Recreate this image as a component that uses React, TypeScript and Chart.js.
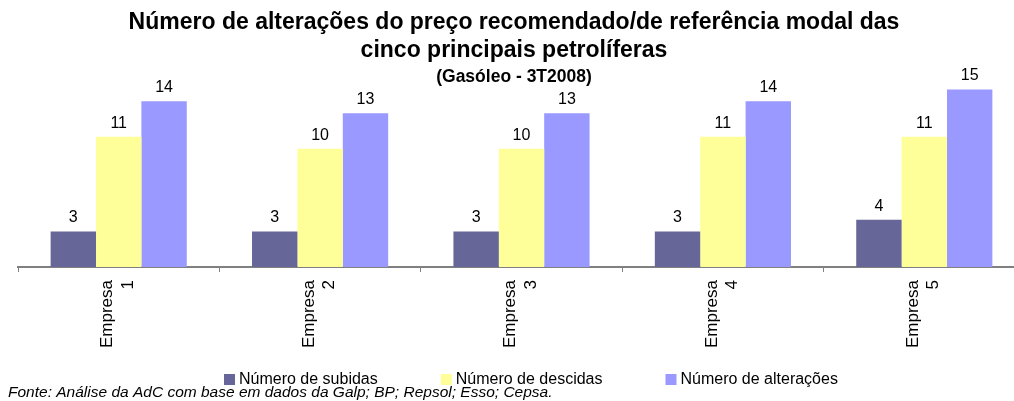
import React, { useEffect, useRef } from 'react';
import { Chart, registerables } from 'chart.js';

Chart.register(...registerables);

// ---- data ----
const categories: string[][] = [
  ['Empresa', '1'],
  ['Empresa', '2'],
  ['Empresa', '3'],
  ['Empresa', '4'],
  ['Empresa', '5'],
];
const seriesNames: string[] = ['Número de subidas', 'Número de descidas', 'Número de alterações'];
const subidas: number[] = [3, 3, 3, 3, 4];
const descidas: number[] = [11, 10, 10, 11, 11];
const alteracoes: number[] = [14, 13, 13, 14, 15];
const titleLines: string[] = [
  'Número de alterações do preço recomendado/de referência modal das',
  'cinco principais petrolíferas',
];
const subtitleText = '(Gasóleo - 3T2008)';
const sourceNote = 'Fonte: Análise da AdC com base em dados da Galp; BP; Repsol; Esso; Cepsa.';

// ---- styles ----
const FONT = '"Liberation Sans", Arial, Helvetica, sans-serif';
const seriesColors = ['#666699', '#FFFF99', '#9999FF'];

const titlePlugin = {
  id: 'titleBlock',
  afterDraw(chart: any) {
    const ctx = chart.ctx;
    ctx.save();
    ctx.fillStyle = '#000';
    ctx.textAlign = 'center';
    ctx.textBaseline = 'alphabetic';
    ctx.font = `bold 23px ${FONT}`;
    ctx.fillText(titleLines[0], 514, 28.5);
    ctx.fillText(titleLines[1], 514, 56.5);
    ctx.font = `bold 17.5px ${FONT}`;
    ctx.fillText(subtitleText, 514, 81.5);
    ctx.restore();
  },
};

const valueLabelPlugin = {
  id: 'valueLabels',
  afterDatasetsDraw(chart: any) {
    const ctx = chart.ctx;
    ctx.save();
    ctx.font = `16px ${FONT}`;
    ctx.fillStyle = '#000';
    ctx.textAlign = 'center';
    ctx.textBaseline = 'alphabetic';
    chart.data.datasets.forEach((ds: any, i: number) => {
      const meta = chart.getDatasetMeta(i);
      meta.data.forEach((el: any, j: number) => {
        ctx.fillText(String(ds.data[j]), el.x, el.y - 9);
      });
    });
    ctx.restore();
  },
};

const legendNotePlugin = {
  id: 'legendNote',
  afterDraw(chart: any) {
    const ctx = chart.ctx;
    ctx.save();
    // legend
    ctx.font = `16px ${FONT}`;
    ctx.textBaseline = 'middle';
    ctx.textAlign = 'left';
    let x = 224;
    const boxTop = 374;
    chart.data.datasets.forEach((ds: any) => {
      ctx.fillStyle = ds.backgroundColor;
      ctx.fillRect(x, boxTop, 11, 11);
      ctx.fillStyle = '#000';
      ctx.fillText(ds.label, x + 15, 379.5);
      x += 15 + ctx.measureText(ds.label).width + 63;
    });
    // source note
    ctx.font = `italic 15.5px ${FONT}`;
    ctx.textBaseline = 'alphabetic';
    ctx.fillStyle = '#000';
    ctx.fillText(sourceNote, 8, 397);
    ctx.restore();
  },
};

export default function App() {
  const canvasRef = useRef<HTMLCanvasElement | null>(null);

  useEffect(() => {
    if (!canvasRef.current) return;
    const chart = new Chart(canvasRef.current, {
      type: 'bar',
      data: {
        labels: categories,
        datasets: [
          { label: seriesNames[0], data: subidas, backgroundColor: seriesColors[0] },
          { label: seriesNames[1], data: descidas, backgroundColor: seriesColors[1] },
          { label: seriesNames[2], data: alteracoes, backgroundColor: seriesColors[2] },
        ],
      },
      options: {
        animation: false,
        responsive: false,
        layout: { padding: { left: 18, right: 15, top: 87.1, bottom: 45 } },
        datasets: {
          bar: { categoryPercentage: 0.676, barPercentage: 1, borderWidth: 0 },
        },
        scales: {
          x: {
            grid: {
              drawOnChartArea: false,
              drawTicks: true,
              tickLength: 5,
              color: '#808080',
              lineWidth: 1,
            },
            border: { display: true, color: '#808080', width: 2 },
            ticks: {
              autoSkip: false,
              minRotation: 90,
              maxRotation: 90,
              padding: 8,
              labelOffset: -11,
              color: '#000',
              font: { family: FONT, size: 17, lineHeight: 1.2 },
            },
          },
          y: {
            display: false,
            min: 0,
            max: 15.2,
          },
        },
        plugins: {
          legend: { display: false },
          tooltip: { enabled: false },
          title: { display: false },
        },
      },
      plugins: [titlePlugin, valueLabelPlugin, legendNotePlugin],
    });
    return () => chart.destroy();
  }, []);

  return (
    <div
      style={{
        position: 'fixed',
        left: 0,
        top: 0,
        width: 1014,
        height: 401,
        overflow: 'hidden',
        background: '#fff',
      }}
    >
      <canvas ref={canvasRef} width={1040} height={401} style={{ display: 'block' }} />
    </div>
  );
}
